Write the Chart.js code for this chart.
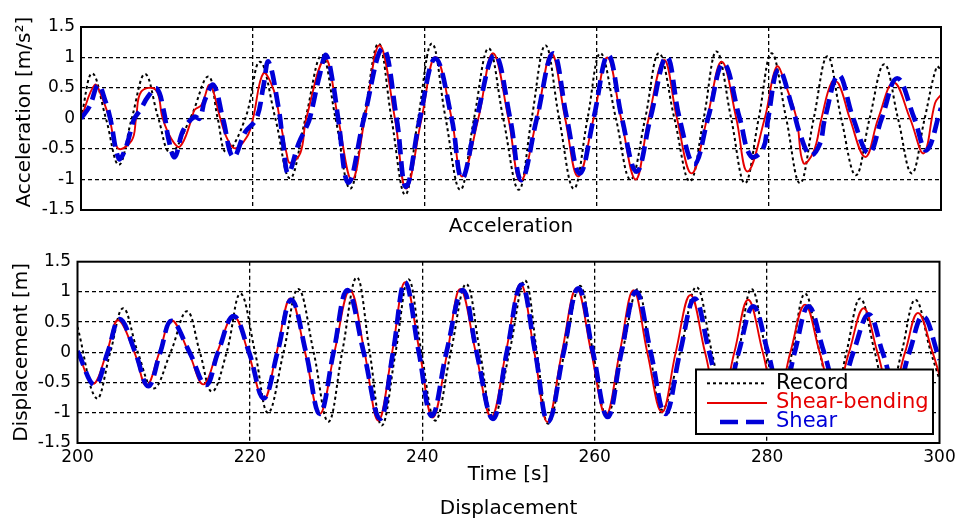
<!DOCTYPE html>
<html><head><meta charset="utf-8">
<script src="https://cdn.jsdelivr.net/npm/chart.js@4.4.1/dist/chart.umd.min.js"></script>
<style>
html,body{margin:0;padding:0;background:#fff;overflow:hidden;width:960px;height:522px}
#a{position:absolute;left:0;top:0}
#b{position:absolute;left:0;top:245px}
</style></head><body>
<canvas id="a" width="960" height="245"></canvas>
<canvas id="b" width="960" height="273"></canvas>
<script>
const xTicks = [200, 220, 240, 260, 280, 300];
const yTicks = [-1.5, -1, -0.5, 0, 0.5, 1, 1.5];
const seriesNames = ['Record', 'Shear-bending', 'Shear'];

// Acceleration [time, value]
const accRecord = [[200.0,0],[201.3,0.74],[202.9,0],[204.4,-0.76],[205.9,0],[207.45,0.73],[209.0,0],[210.4,-0.56],[212.7,0],[214.8,0.69],[215.9,0],[216.9,-0.55],[219.1,0],[220.8,0.93],[222.6,0],[224.3,-0.98],[226.1,0],[228.0,1.04],[229.6,0],[231.3,-1.15],[232.9,0],[234.6,1.23],[236.1,0],[237.7,-1.25],[239.2,0],[240.8,1.23],[242.4,0],[244.1,-1.17],[245.7,0],[247.4,1.15],[249.1,0],[250.9,-1.17],[252.4,0],[254.0,1.2],[255.6,0],[257.3,-1.15],[258.9,0],[260.4,1.07],[262.2,0],[263.9,-1.0],[265.6,0],[267.2,1.07],[269.0,0],[270.8,-1.03],[272.4,0],[273.9,1.1],[275.6,0],[277.2,-1.06],[278.8,0],[280.3,1.07],[282.0,0],[283.6,-1.06],[285.2,0],[286.8,1.02],[288.4,0],[290.1,-0.93],[291.7,0],[293.4,0.89],[295.0,0],[296.6,-0.9],[298.1,0],[299.5,0.85],[300.0,0.8]];
const accShearBending = [[200.0,0],[201.6,0.55],[202.4,0.36],[203.3,0],[204.3,-0.49],[205.9,-0.36],[206.4,0],[207.0,0.44],[208.7,0.47],[209.5,0],[210.5,-0.33],[211.5,-0.46],[212.9,0],[213.2,0.14],[214.0,0.22],[215.0,0.55],[216.2,0],[216.9,-0.3],[217.9,-0.49],[219.3,-0.3],[220.0,0],[221.2,0.74],[222.4,0.47],[223.1,0],[223.9,-0.57],[224.3,-0.73],[225.5,-0.57],[226.2,0],[228.4,0.98],[229.9,0],[231.5,-1.01],[233.0,0],[234.7,1.2],[236.5,0],[237.8,-1.15],[239.6,0],[241.2,1.01],[243.1,0],[244.3,-0.95],[246.2,0],[247.9,1.07],[249.7,0],[251.1,-1.03],[253.0,0],[254.7,1.07],[256.3,0],[257.8,-0.95],[259.6,0],[261.2,1.0],[262.8,0],[264.5,-1.0],[266.0,0],[267.8,0.96],[269.3,0],[271.0,-0.9],[272.8,0],[274.5,0.93],[276.2,0],[277.5,-0.87],[279.5,0],[280.9,0.85],[282.0,0.52],[283.2,0],[284.0,-0.73],[285.2,-0.54],[286.1,0],[287.3,0.6],[288.1,0.57],[289.4,0],[291.2,-0.63],[292.7,0],[294.5,0.59],[296.4,0],[298.0,-0.57],[299.3,0.25],[300.0,0.39]];
const accShear = [[200.0,0],[201.0,0.2],[202.0,0.55],[202.8,0.3],[203.4,0],[204.4,-0.66],[205.1,-0.52],[205.9,-0.14],[206.2,0],[206.9,0.14],[207.8,0.36],[208.8,0.49],[209.6,0.14],[210.2,-0.35],[210.9,-0.63],[211.9,-0.19],[213.2,0.03],[213.8,0.0],[214.4,0.3],[215.4,0.55],[216.5,0],[217.7,-0.63],[219.1,-0.22],[220.4,0],[221.2,0.52],[221.8,0.93],[222.95,0.19],[223.5,-0.4],[224.1,-0.9],[225.3,-0.41],[226.2,-0.14],[226.6,0],[227.8,0.74],[228.5,1.04],[229.3,0.58],[229.9,0],[231.1,-1.05],[232.9,0],[235.1,1.15],[236.7,0],[237.8,-1.12],[239.4,0],[241.2,0.98],[243.1,0],[244.3,-0.98],[246.0,0],[248.1,1.04],[249.9,0],[251.2,-1.01],[253.0,0],[254.9,1.07],[256.5,0],[258.0,-0.9],[259.6,0],[261.3,1.04],[262.9,0],[264.6,-0.87],[266.2,0],[268.1,1.01],[269.6,0],[271.3,-0.75],[272.9,0],[274.7,0.9],[276.6,0],[277.9,-0.62],[279.3,-0.5],[279.9,0],[281.1,0.8],[282.8,0.14],[283.6,-0.25],[284.8,-0.6],[285.9,-0.42],[286.5,0],[288.1,0.71],[289.8,0],[291.6,-0.57],[293.1,0],[294.9,0.66],[296.9,0],[298.3,-0.52],[300.0,0.17]];

// Displacement [time, value]
const dispRecord = [[200.0,0.42],[202.2,-0.76],[203.8,0],[205.3,0.73],[207.0,0],[208.8,-0.6],[210.8,0],[212.7,0.68],[214.2,0],[215.6,-0.65],[217.3,0],[218.9,0.97],[220.6,0],[222.1,-1.0],[223.9,0],[225.6,1.05],[227.4,0],[229.1,-1.15],[230.7,0],[232.4,1.24],[233.9,0],[235.3,-1.21],[236.9,0],[238.4,1.21],[239.9,0],[241.5,-1.13],[243.3,0],[245.1,1.13],[246.7,0],[248.2,-1.1],[250.1,0],[251.9,1.19],[253.3,0],[254.6,-1.18],[256.5,0],[258.3,1.1],[259.8,0],[261.4,-1.05],[263.2,0],[265.0,1.05],[266.4,0],[267.8,-0.95],[269.9,0],[271.8,1.08],[273.6,0],[275.2,-0.95],[276.7,0],[278.2,1.05],[279.9,0],[281.5,-0.9],[282.9,0],[284.4,0.97],[286.1,0],[287.7,-0.85],[289.2,0],[290.8,0.89],[292.5,0],[294.0,-0.8],[295.6,0],[297.2,0.87],[299.0,0],[300.0,-0.45]];
const dispShearBending = [[200.0,0.02],[201.8,-0.52],[203.4,0],[204.7,0.53],[206.6,0],[208.0,-0.55],[209.5,0],[210.9,0.53],[212.9,0],[214.6,-0.53],[216.2,0],[218.1,0.6],[219.8,0],[221.6,-0.78],[223.1,0],[224.7,0.89],[226.4,0],[228.1,-1.02],[229.8,0],[231.6,1.03],[233.3,0],[234.9,-1.13],[236.5,0],[238.0,1.16],[239.7,0],[241.2,-1.08],[242.9,0],[244.4,1.05],[246.2,0],[248.0,-1.07],[249.7,0],[251.4,1.13],[253.0,0],[254.5,-1.15],[256.2,0],[257.9,1.06],[259.6,0],[261.3,-1.04],[262.9,0],[264.5,1.03],[266.1,0],[267.8,-0.99],[269.4,0],[271.1,0.95],[272.8,0],[274.5,-0.92],[276.2,0],[277.8,0.87],[279.5,0],[281.1,-0.85],[282.7,0],[284.4,0.79],[286.1,0],[287.8,-0.75],[289.5,0],[291.2,0.73],[292.8,0],[294.4,-0.7],[296.0,0],[297.5,0.65],[299.2,0],[300.0,-0.38]];
const dispShear = [[200.0,0.02],[202.0,-0.54],[203.5,0],[204.9,0.55],[206.7,0],[208.2,-0.56],[209.6,0],[210.9,0.52],[213.0,0],[214.9,-0.54],[216.3,0],[218.1,0.6],[219.9,0],[221.6,-0.76],[223.2,0],[224.8,0.87],[226.5,0],[228.1,-1.02],[229.7,0],[231.3,1.03],[233.2,0],[235.1,-1.1],[236.6,0],[238.0,1.16],[239.6,0],[241.1,-1.05],[242.8,0],[244.7,1.03],[246.3,0],[248.2,-1.1],[249.8,0],[251.5,1.12],[253.1,0],[254.6,-1.15],[256.4,0],[258.1,1.06],[259.8,0],[261.5,-1.07],[263.1,0],[264.8,1.0],[266.5,0],[268.2,-1.02],[269.9,0],[271.6,0.89],[273.3,0],[275.0,-0.88],[276.7,0],[278.4,0.76],[280.1,0],[281.7,-0.78],[283.2,0],[284.8,0.76],[286.6,0],[288.3,-0.68],[290.0,0],[291.8,0.63],[293.4,0],[295.0,-0.62],[296.5,0],[298.1,0.6],[300.0,-0.12]];

const FONT = '"DejaVu Sans", sans-serif';
const COLORS = ['#000000', '#e60000', '#0000d8'];

function toXY(arr) { return arr.map(p => ({x: p[0], y: p[1]})); }

function mkDatasets(rec, sb, sh) {
  return [
    {label: seriesNames[0], data: toXY(rec), borderColor: COLORS[0], borderWidth: 2, borderDash: [3, 3], order: 3},
    {label: seriesNames[1], data: toXY(sb), borderColor: COLORS[1], borderWidth: 1.9, borderDash: [], order: 2},
    {label: seriesNames[2], data: toXY(sh), borderColor: COLORS[2], borderWidth: 4.7, borderDash: [15, 7], order: 1}
  ].map(d => Object.assign(d, {pointRadius: 0, fill: false, tension: 0.4, borderCapStyle: 'butt'}));
}

const boxPlugin = {
  id: 'box',
  afterDraw(chart) {
    const {ctx, chartArea: a} = chart;
    ctx.save();
    ctx.setLineDash([]);
    ctx.lineWidth = 2;
    ctx.strokeStyle = '#000';
    ctx.strokeRect(a.left, a.top, a.right - a.left, a.bottom - a.top);
    ctx.restore();
  }
};

const legendPlugin = {
  id: 'boxLegend',
  afterDraw(chart) {
    const ctx = chart.ctx;
    const L = 696, T = 124.5, R = 933, B = 189;
    ctx.save();
    ctx.setLineDash([]);
    ctx.fillStyle = '#fff';
    ctx.fillRect(L, T, R - L, B - T);
    ctx.lineWidth = 2;
    ctx.strokeStyle = '#000';
    ctx.strokeRect(L, T, R - L, B - T);
    const rows = [138.3, 158, 177];
    const samples = [[707, 767, [3, 3]], [707, 767, []], [720, 766, [18, 8]]];
    chart.data.datasets.forEach((ds, i) => {
      const y = rows[i];
      ctx.beginPath();
      ctx.lineWidth = ds.borderWidth;
      ctx.strokeStyle = ds.borderColor;
      ctx.setLineDash(samples[i][2]);
      ctx.moveTo(samples[i][0], y);
      ctx.lineTo(samples[i][1], y);
      ctx.stroke();
      ctx.setLineDash([]);
      ctx.fillStyle = ds.borderColor;
      ctx.font = '21px ' + FONT;
      ctx.textBaseline = 'middle';
      ctx.textAlign = 'left';
      ctx.fillText(ds.label, 776, y);
    });
    ctx.restore();
  }
};

function gridColor(edges) {
  return c => (c.tick && edges.indexOf(c.tick.value) >= 0) ? 'rgba(0,0,0,0)' : '#000';
}

function makeChart(id, o) {
  return new Chart(document.getElementById(id), {
    type: 'line',
    data: {datasets: mkDatasets(o.rec, o.sb, o.sh)},
    options: {
      responsive: false, animation: false, devicePixelRatio: 1,
      layout: {padding: o.padding},
      plugins: {legend: {display: false}, tooltip: {enabled: false}},
      scales: {
        x: {
          type: 'linear', min: 200, max: 300,
          afterBuildTicks: s => { s.ticks = xTicks.map(v => ({value: v})); },
          afterFit: s => { s.height = o.xHeight; },
          ticks: {display: o.showX, padding: 4, color: '#000', font: {family: FONT, size: 17}, maxRotation: 0, autoSkip: false, callback: v => String(v)},
          grid: {drawTicks: false, lineWidth: 1.3, color: gridColor([200, 300])},
          border: {display: false, dash: [4, 3]},
          title: {display: true, text: o.xTitle, color: '#000', font: {family: FONT, size: 20, lineHeight: o.xTitleLH}, padding: {top: 0, bottom: o.xTitlePad}}
        },
        y: {
          type: 'linear', min: -1.5, max: 1.5,
          afterBuildTicks: s => { s.ticks = yTicks.map(v => ({value: v})); },
          afterFit: s => { s.width = o.yWidth; },
          ticks: {padding: o.yTickPad, color: '#000', font: {family: FONT, size: 17}, autoSkip: false, callback: v => String(v)},
          grid: {drawTicks: false, lineWidth: 1.3, color: gridColor([-1.5, 1.5])},
          border: {display: false, dash: [4, 3]},
          title: {display: true, text: o.yTitle, color: '#000', font: {family: FONT, size: 20}, padding: {top: o.yTitlePad, bottom: 0}}
        }
      }
    },
    plugins: o.legend ? [boxPlugin, legendPlugin] : [boxPlugin]
  });
}

makeChart('a', {
  rec: accRecord, sb: accShearBending, sh: accShear,
  padding: {left: 0, top: 27, right: 19, bottom: 0},
  xHeight: 35, yWidth: 81, yTickPad: 6, showX: false,
  xTitle: 'Acceleration', xTitleLH: 1.2, xTitlePad: 6,
  yTitle: '  Acceleration [m/s\u00B2]', yTitlePad: 13, legend: false
});
makeChart('b', {
  rec: dispRecord, sb: dispShearBending, sh: dispShear,
  padding: {left: 0, top: 10, right: 20.5, bottom: 0},
  xHeight: 75, yWidth: 77.5, yTickPad: 6.5, showX: true,
  xTitle: ['Time [s]', 'Displacement'], xTitleLH: 1.7, xTitlePad: -8,
  yTitle: 'Displacement [m]', yTitlePad: 9.6, legend: true
});
</script>
</body></html>
